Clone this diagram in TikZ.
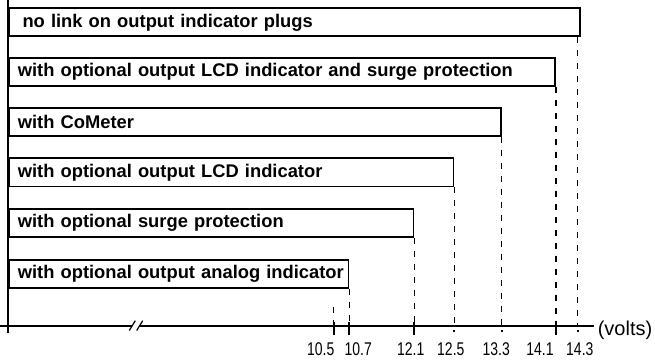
\documentclass[tikz,border=0pt]{standalone}
\usepackage{fontspec}
\setmainfont{Liberation Sans}
\newfontfamily\narrowfont[FakeStretch=0.76]{Liberation Sans}
\begin{document}
\begin{tikzpicture}[x=0.75pt,y=-0.75pt,
  box/.style={draw, line width=1.3pt, anchor=north west, minimum height=21pt,
    inner xsep=6.75pt, inner ysep=0pt, align=left,
    font=\fontsize{13.75}{16}\selectfont\bfseries},
  axisline/.style={line width=1.3pt},
  guide/.style={line width=1.1pt, dash pattern=on 4.5pt off 5.25pt},
  tickmark/.style={line width=1.3pt},
  ticklabel/.style={font=\fontsize{13.8}{15}\selectfont\narrowfont, inner sep=0pt},
  unitlabel/.style={font=\fontsize{15}{17}\selectfont, inner sep=0pt, anchor=west}]
\useasboundingbox (0,0) rectangle (655,363);

% axes
\coordinate (ytop) at (8,0);
\coordinate (ybot) at (8,333);
\coordinate (xl) at (0,326);
\coordinate (brkL) at (132.2,326);
\coordinate (brkR) at (139.7,326);
\coordinate (xr) at (594,326);
\draw[axisline] (ytop) -- (ybot);
\draw[axisline] (xl) -- (brkL);
\draw[axisline] (brkR) -- (xr);
\draw[line width=0.9pt] (129.3,330.5) -- (135.3,320.7);
\draw[line width=0.9pt] (136.7,330.5) -- (142.7,320.7);

% boxes
\node[box, text width={571*0.75pt-13.5pt}] (b1) at (8,7.5) {\mbox{\hspace*{3.5pt}no link on output indicator plugs}};
\node[box, text width={546.3*0.75pt-13.5pt}] (b2) at (8,57) {\mbox{with optional output LCD indicator and surge protection}};
\node[box, text width={492*0.75pt-13.5pt}] (b3) at (8,107) {\mbox{with CoMeter}};
\node[box, text width={444.5*0.75pt-13.5pt}] (b4) at (8,157.5) {\mbox{with optional output LCD indicator}};
\node[box, text width={404.5*0.75pt-13.5pt}] (b5) at (8,208) {\mbox{with optional surge protection}};
\node[box, text width={339.5*0.75pt-13.5pt}] (b6) at (8,259) {\mbox{with optional output analog indicator}};

% tick positions on the axis
\coordinate (t105) at (333.7,326);
\coordinate (t107) at (b6.south east |- xl);
\coordinate (t121) at (b5.south east |- xl);
\coordinate (t125) at (b4.south east |- xl);
\coordinate (t133) at (b3.south east |- xl);
\coordinate (t141) at (b2.south east |- xl);
\coordinate (b1g) at ([xshift=-2.25pt]b1.south east);
\coordinate (t143) at (b1g |- xl);
\coordinate (s105) at (333.7,306.5);

% dashed guides
\draw[guide] (s105) -- (t105);
\draw[guide] (b6.south east) -- (t107);
\draw[guide] (b5.south east) -- (t121);
\draw[guide] (b4.south east) -- (t125);
\draw[guide] (b3.south east) -- (t133);
\draw[guide] (b2.south east) -- (t141);
\draw[guide] (b1g) -- (t143);

% solid ticks
\foreach \t in {t105,t107,t121,t141}
  \draw[tickmark] ([yshift=3pt]\t) -- ([yshift=-6.8pt]\t);
\foreach \t in {t125,t133,t143}
  \draw[tickmark] ([yshift=-3pt]\t) -- ([yshift=-4.3pt]\t);

% labels
\node[ticklabel] (l105) at (320.8,349) {10.5};
\node[ticklabel] (l107) at (358.3,349) {10.7};
\node[ticklabel] (l121) at (410.7,349) {12.1};
\node[ticklabel] (l125) at (450.8,349) {12.5};
\node[ticklabel] (l133) at (496.2,349) {13.3};
\node[ticklabel] (l141) at (540,349) {14.1};
\node[ticklabel] (l143) at (579.8,349) {14.3};
\node[unitlabel] (volts) at (597.5,330.5) {(volts)};
\end{tikzpicture}
\end{document}
